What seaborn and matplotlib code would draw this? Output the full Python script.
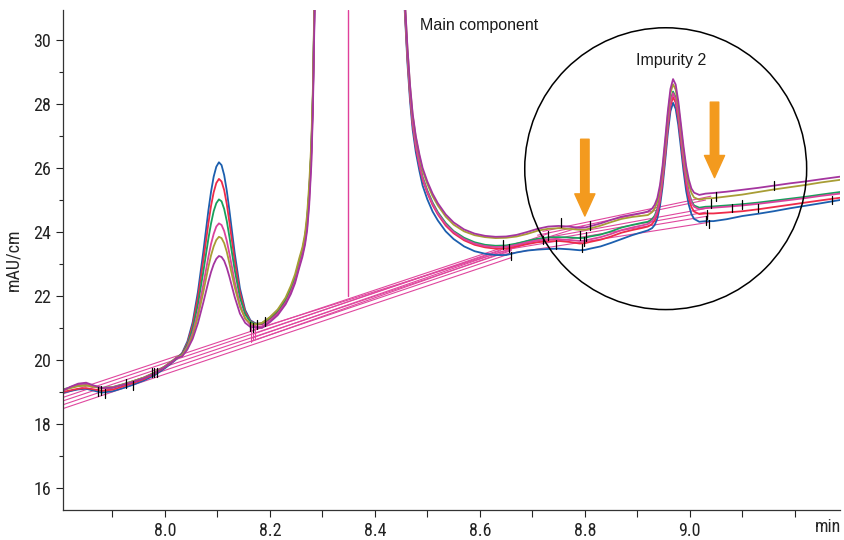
import matplotlib
matplotlib.use('Agg')
import matplotlib.pyplot as plt
from matplotlib.patches import Ellipse
from matplotlib import font_manager
import pandas as pd
import seaborn as sns

# --- retention time grid (min) ---
time_min = ([7.806, 7.82, 7.835, 7.85, 7.865, 7.88, 7.90, 7.92, 7.94, 7.96, 7.98, 8.00, 8.015, 8.023]
            + [8.033, 8.043, 8.053, 8.063, 8.073, 8.083, 8.088, 8.093, 8.098, 8.103, 8.108, 8.113, 8.118,
               8.123, 8.133, 8.143, 8.153, 8.163, 8.173]
            + [8.185, 8.20, 8.215, 8.23, 8.24, 8.248, 8.256, 8.262, 8.267, 8.271, 8.275, 8.279, 8.282,
               8.285, 8.29, 8.32, 8.37, 8.42]
            + [8.45, 8.457, 8.462, 8.467, 8.472, 8.478, 8.485, 8.491, 8.50, 8.51, 8.52, 8.535, 8.55, 8.57,
               8.59, 8.61, 8.63, 8.65, 8.67, 8.69, 8.71, 8.73, 8.75, 8.77, 8.79, 8.80, 8.81, 8.83, 8.85,
               8.87, 8.89, 8.91, 8.92]
            + [8.928, 8.933, 8.938, 8.943, 8.948, 8.953, 8.958, 8.963, 8.968, 8.973, 8.978, 8.983, 8.988,
               8.993, 8.998, 9.003, 9.008, 9.018, 9.03]
            + [9.045, 9.07, 9.10, 9.13, 9.16, 9.19, 9.22, 9.25, 9.286])

# --- signal of each injection (mAU/cm) ---
trace_blue = ([18.98, 19.03, 19.08, 19.10, 19.04, 18.98, 19.02, 19.12, 19.23, 19.36, 19.52, 19.74, 19.93, 20.04]
              + [20.22, 20.58, 21.18, 22.13, 23.35, 24.68, 25.26, 25.73, 26.04, 26.18, 26.09, 25.78, 25.29,
                 24.67, 23.35, 22.24, 21.56, 21.24, 21.14]
              + [21.12, 21.28, 21.50, 21.85, 22.20, 22.55, 23.05, 23.40, 23.80, 24.30, 25.20, 26.50, 28.20,
                 31.0, 36, 60, 80, 60]
              + [32.5, 30.9, 29.3, 28.1, 27.2, 26.5, 25.9, 25.45, 25.02, 24.64, 24.36, 24.02, 23.78, 23.55,
                 23.4, 23.32, 23.28, 23.28, 23.36, 23.42, 23.45, 23.47, 23.48, 23.46, 23.43, 23.44, 23.48,
                 23.55, 23.66, 23.78, 23.9, 24.0, 24.05]
              + [24.12, 24.22, 24.42, 24.80, 25.41, 26.22, 27.08, 27.77, 28.04, 27.85, 27.34, 26.63, 25.90,
                 25.28, 24.85, 24.56, 24.41, 24.32, 24.34]
              + [24.34, 24.40, 24.50, 24.57, 24.65, 24.74, 24.82, 24.90, 25.00])

trace_red = ([19.00, 19.05, 19.10, 19.12, 19.08, 19.04, 19.07, 19.17, 19.28, 19.40, 19.56, 19.77, 19.95, 20.06]
             + [20.20, 20.53, 21.09, 21.96, 23.07, 24.28, 24.82, 25.24, 25.53, 25.66, 25.58, 25.31, 24.87,
                24.30, 23.11, 22.11, 21.50, 21.21, 21.13]
             + [21.13, 21.30, 21.52, 21.88, 22.22, 22.58, 23.08, 23.42, 23.82, 24.35, 25.25, 26.55, 28.25,
                31.1, 36, 60, 80, 60]
             + [32.7, 31.0, 29.45, 28.25, 27.35, 26.65, 26.05, 25.63, 25.22, 24.84, 24.55, 24.2, 23.96,
                23.74, 23.6, 23.52, 23.48, 23.48, 23.55, 23.62, 23.68, 23.71, 23.72, 23.69, 23.64, 23.65,
                23.69, 23.76, 23.86, 23.98, 24.06, 24.13, 24.17]
             + [24.25, 24.36, 24.57, 24.96, 25.57, 26.38, 27.25, 27.94, 28.22, 28.04, 27.53, 26.83, 26.11,
                25.49, 25.06, 24.78, 24.64, 24.56, 24.58]
             + [24.58, 24.61, 24.65, 24.71, 24.78, 24.85, 24.92, 24.99, 25.07])

trace_green = ([19.08, 19.14, 19.20, 19.22, 19.18, 19.13, 19.15, 19.24, 19.34, 19.45, 19.60, 19.80, 19.98, 20.08]
               + [20.18, 20.48, 20.97, 21.74, 22.73, 23.80, 24.27, 24.65, 24.90, 25.02, 24.96, 24.72, 24.34,
                  23.85, 22.82, 21.95, 21.43, 21.19, 21.12]
               + [21.15, 21.32, 21.55, 21.90, 22.25, 22.60, 23.10, 23.45, 23.85, 24.40, 25.30, 26.60, 28.30,
                  31.2, 36, 60, 80, 60]
               + [32.8, 31.1, 29.55, 28.35, 27.45, 26.75, 26.15, 25.72, 25.3, 24.92, 24.62, 24.28, 24.03,
                  23.82, 23.68, 23.6, 23.57, 23.58, 23.64, 23.72, 23.79, 23.83, 23.84, 23.83, 23.81, 23.82,
                  23.86, 23.92, 24.02, 24.14, 24.22, 24.29, 24.32]
               + [24.40, 24.51, 24.72, 25.11, 25.73, 26.55, 27.42, 28.11, 28.39, 28.21, 27.70, 27.00, 26.29,
                  25.68, 25.25, 24.97, 24.83, 24.76, 24.79]
               + [24.80, 24.83, 24.87, 24.92, 24.98, 25.04, 25.10, 25.17, 25.25])

trace_pink = ([19.05, 19.15, 19.24, 19.26, 19.18, 19.12, 19.14, 19.23, 19.33, 19.44, 19.59, 19.79, 19.97, 20.07]
              + [20.15, 20.42, 20.84, 21.49, 22.33, 23.23, 23.63, 23.94, 24.17, 24.27, 24.22, 24.03, 23.72,
                 23.32, 22.45, 21.73, 21.29, 21.10, 21.05]
              + [21.05, 21.22, 21.44, 21.78, 22.12, 22.46, 22.95, 23.30, 23.68, 24.15, 25.0, 26.3, 28.0,
                 30.9, 36, 60, 80, 60]
              + [32.75, 31.05, 29.5, 28.3, 27.4, 26.7, 26.1, 25.68, 25.26, 24.88, 24.58, 24.24, 24.0, 23.78,
                 23.64, 23.56, 23.53, 23.54, 23.6, 23.68, 23.74, 23.77, 23.77, 23.75, 23.72, 23.73, 23.77,
                 23.84, 23.94, 24.06, 24.14, 24.21, 24.25]
              + [24.34, 24.45, 24.66, 25.05, 25.67, 26.49, 27.36, 28.05, 28.34, 28.16, 27.65, 26.95, 26.24,
                 25.63, 25.20, 24.92, 24.79, 24.71, 24.75]
              + [24.76, 24.79, 24.83, 24.88, 24.94, 25.00, 25.06, 25.13, 25.20])

trace_olive = ([19.06, 19.12, 19.18, 19.20, 19.16, 19.12, 19.14, 19.23, 19.34, 19.45, 19.60, 19.80, 19.98, 20.08]
               + [20.14, 20.38, 20.76, 21.35, 22.10, 22.91, 23.27, 23.55, 23.75, 23.85, 23.81, 23.65, 23.38,
                  23.02, 22.28, 21.66, 21.30, 21.14, 21.11]
               + [21.16, 21.34, 21.58, 21.95, 22.32, 22.68, 23.18, 23.52, 23.95, 24.55, 25.5, 26.8, 28.5,
                  31.4, 36, 60, 80, 60]
               + [33.0, 31.25, 29.75, 28.55, 27.65, 26.95, 26.35, 25.92, 25.5, 25.12, 24.83, 24.48, 24.23,
                  24.02, 23.9, 23.84, 23.81, 23.82, 23.86, 23.94, 24.04, 24.1, 24.12, 24.1, 24.07, 24.07,
                  24.11, 24.2, 24.31, 24.41, 24.47, 24.51, 24.53]
               + [24.62, 24.73, 24.94, 25.34, 25.95, 26.77, 27.65, 28.34, 28.62, 28.45, 27.94, 27.24, 26.53,
                  25.92, 25.49, 25.22, 25.08, 25.01, 25.05]
               + [25.06, 25.11, 25.17, 25.25, 25.33, 25.40, 25.47, 25.55, 25.63])

trace_purple = ([19.04, 19.16, 19.26, 19.29, 19.20, 19.12, 19.13, 19.22, 19.32, 19.43, 19.58, 19.78, 19.96, 20.07]
                + [20.11, 20.33, 20.66, 21.15, 21.78, 22.45, 22.75, 22.99, 23.16, 23.25, 23.22, 23.10, 22.88,
                   22.60, 21.97, 21.45, 21.16, 21.03, 21.02]
                + [21.0, 21.18, 21.4, 21.74, 22.06, 22.4, 22.88, 23.22, 23.6, 24.05, 24.85, 26.1, 27.8,
                   30.7, 36, 60, 80, 60]
                + [33.0, 31.3, 29.8, 28.6, 27.7, 27.0, 26.42, 26.0, 25.58, 25.2, 24.9, 24.55, 24.3, 24.08,
                   23.95, 23.88, 23.85, 23.86, 23.91, 24.0, 24.1, 24.17, 24.19, 24.17, 24.13, 24.14, 24.18,
                   24.27, 24.38, 24.48, 24.54, 24.6, 24.64]
                + [24.73, 24.85, 25.06, 25.46, 26.07, 26.90, 27.77, 28.47, 28.78, 28.61, 28.09, 27.38, 26.67,
                   26.06, 25.64, 25.36, 25.23, 25.16, 25.20]
                + [25.22, 25.26, 25.32, 25.38, 25.45, 25.52, 25.58, 25.65, 25.73])

trace_names = ['blue', 'red', 'green', 'pink', 'olive', 'purple']
trace_colors = ['#1c5fae', '#ee2b4a', '#17a05c', '#d9429c', '#a89d35', '#a4359f']

# integration baselines: start (t, y) -> end (t, y)
base_t0 = [7.806, 7.806, 7.806, 7.806, 7.806, 8.165, 8.165, 8.170, 8.170,
           8.645, 8.650, 8.660, 8.670, 8.710, 8.720]
base_y0 = [18.48, 18.60, 18.72, 18.83, 18.94, 20.58, 20.68, 20.82, 20.95,
           23.30, 23.45, 23.55, 23.65, 23.90, 24.02]
base_t1 = [8.660, 8.650, 8.660, 8.640, 8.650, 8.660, 8.700, 8.730, 8.800,
           9.035, 9.035, 9.030, 9.035, 9.030, 9.040]
base_y1 = [23.20, 23.28, 23.42, 23.42, 23.55, 23.45, 23.72, 23.95, 24.20,
           24.30, 24.50, 24.62, 24.75, 25.00, 25.12]

# drop lines at the valley after peak 1
drop_t = [8.164, 8.167, 8.171]
drop_top = [21.05, 21.02, 21.08]
drop_bottom = [20.55, 20.62, 20.70]

# peak start / end markers
mark_t = [7.872, 7.878, 7.886, 7.926, 7.940, 7.975, 7.980, 7.985,
          8.163, 8.168, 8.175, 8.190, 8.645, 8.655, 8.660, 8.720, 8.730, 8.745, 8.755,
          8.790, 8.795, 8.798, 8.803, 8.810, 9.030, 9.033, 9.036, 9.040, 9.050,
          9.080, 9.100, 9.130, 9.160, 9.270]
mark_y = [19.00, 19.05, 18.95, 19.25, 19.20, 19.62, 19.62, 19.62,
          21.05, 21.00, 21.10, 21.20, 23.60, 23.50, 23.25, 23.75, 23.90, 23.60, 24.30,
          23.90, 23.50, 23.70, 23.85, 24.20, 24.35, 24.55, 24.25, 24.90, 25.10,
          24.75, 24.85, 24.75, 25.45, 25.00]

cut_time = 8.3486   # vertical split line
cut_from = 22.0

rows = []
for name, vals in zip(trace_names, [trace_blue, trace_red, trace_green, trace_pink, trace_olive, trace_purple]):
    for t, v in zip(time_min, vals):
        rows.append({'t': t, 'signal': v, 'trace': name})
df = pd.DataFrame(rows)

sns.set_style('ticks')
# condensed face for axis text if one is installed
axis_family = ['DejaVu Sans']
for cand in ['Roboto Condensed', 'Liberation Sans Narrow', 'DejaVu Sans Condensed']:
    if any(f.name == cand for f in font_manager.fontManager.ttflist):
        axis_family = [cand, 'DejaVu Sans']
        break
plt.rcParams['font.family'] = axis_family
cond = [f for f in font_manager.fontManager.ttflist if f.name == 'DejaVu Sans' and f.stretch == 'condensed']
if axis_family == ['DejaVu Sans'] and cond:
    plt.rcParams['font.stretch'] = 'condensed'

fig = plt.figure(figsize=(8.44, 5.40), dpi=100)
ax = fig.add_axes([63 / 844, 30 / 540, 777 / 844, 500 / 540])

pink_line = '#e0479e'
for i in range(len(base_t0)):
    ax.plot([base_t0[i], base_t1[i]], [base_y0[i], base_y1[i]], color=pink_line, lw=0.8, zorder=1)
for i in range(len(drop_t)):
    ax.plot([drop_t[i], drop_t[i]], [drop_bottom[i], drop_top[i]], color=pink_line, lw=0.8, zorder=1)

sns.lineplot(data=df, x='t', y='signal', hue='trace', hue_order=trace_names,
             palette=trace_colors, estimator=None, sort=False, lw=1.3, legend=False, ax=ax, zorder=2)

ax.axvline(cut_time, ymin=(cut_from - 15.31) / (30.94 - 15.31), ymax=1, color='#e0409a', lw=1.0, zorder=2)

for t, y in zip(mark_t, mark_y):
    ax.plot([t, t], [y - 0.14, y + 0.14], color='black', lw=0.9, zorder=3)

# highlight circle around impurity 2 (round in pixels)
ax.add_patch(Ellipse((8.954, 25.98), width=0.537, height=8.81, fill=False, ec='black', lw=1.1, zorder=4))

arrow_color = '#f39a1e'
for x, y_tail, y_tip in [(8.800, 26.90, 24.50), (9.047, 28.06, 25.70)]:
    ax.annotate('', xy=(x, y_tip), xytext=(x, y_tail),
                arrowprops=dict(arrowstyle='simple,head_width=1.0,head_length=1.1,tail_width=0.42',
                                color=arrow_color, shrinkA=0, shrinkB=0, mutation_scale=14.5),
                zorder=5)

ax.text(8.486, 30.47, 'Main component', fontsize=11.5, va='center', ha='left', stretch='normal',
        family=['Liberation Sans', 'DejaVu Sans'], color='#1a1a1a')
ax.text(8.897, 29.37, 'Impurity 2', fontsize=11.5, va='center', ha='left', stretch='normal',
        family=['Liberation Sans', 'DejaVu Sans'], color='#1a1a1a')

ax.set_xlim(7.806, 9.286)
ax.set_ylim(15.31, 30.94)

ax.set_xticks([8.0, 8.2, 8.4, 8.6, 8.8, 9.0, 9.2])
ax.set_xticklabels(['8.0', '8.2', '8.4', '8.6', '8.8', '9.0', ''])
ax.set_xticks([7.9, 8.1, 8.3, 8.5, 8.7, 8.9, 9.1], minor=True)
ax.set_yticks([16, 18, 20, 22, 24, 26, 28, 30])
ax.set_yticks([17, 19, 21, 23, 25, 27, 29], minor=True)
ax.tick_params(axis='both', which='major', direction='out', length=5, width=0.8, labelsize=13, colors='#222222')
ax.tick_params(axis='x', which='minor', direction='out', length=5, width=0.8)
ax.tick_params(axis='y', which='minor', direction='out', length=3, width=0.8)

ax.set_xlabel('')
ax.set_ylabel('mAU/cm', fontsize=13, labelpad=8)
ax.text(0.985, -0.034, 'min', transform=ax.transAxes, ha='center', va='center', fontsize=13)

sns.despine(ax=ax)
for s in ['left', 'bottom']:
    ax.spines[s].set_linewidth(0.9)
    ax.spines[s].set_color('#333333')

fig.savefig('out.png', dpi=100)
